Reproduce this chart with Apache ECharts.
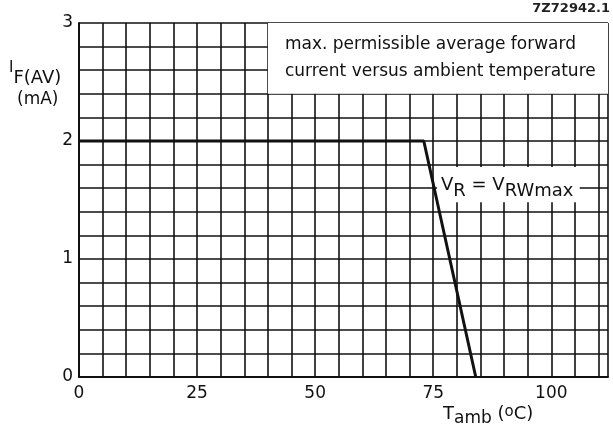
<!DOCTYPE html>
<html>
<head>
<meta charset="utf-8">
<script src="https://cdn.jsdelivr.net/npm/echarts@6/dist/echarts.min.js"></script>
<style>html,body{margin:0;padding:0;background:#fff}#c{width:613px;height:432px}</style>
</head>
<body>
<div id="c"></div>
<script>
// Data
var curveX = [0, 73, 84];
var curveY = [2, 2, 0];
var xTickLabels = [0, 25, 50, 75, 100];
var yTickLabels = [0, 1, 2, 3];
var noteLines = ['max. permissible average forward', 'current versus ambient temperature'];
var noteBox = [[40, 3], [112, 2.4]];
var condBox = [[75.8, 1.78], [106, 1.48]];
var figId = '7Z72942.1';

var FONT = '"DejaVu Sans", Verdana, sans-serif';
var chart = echarts.init(document.getElementById('c'), null, {renderer: 'canvas'});
var near = function (v, arr) { for (var i = 0; i < arr.length; i++) { if (Math.abs(v - arr[i]) < 1e-6) return true; } return false; };

var option = {
  backgroundColor: '#fff',
  animation: false,
  grid: {left: 79, right: 5, top: 23, bottom: 55, show: false},
  xAxis: {
    type: 'value', min: 0, max: 112, interval: 5,
    axisLine: {show: true, onZero: false, lineStyle: {color: '#111', width: 2}},
    axisTick: {show: false},
    axisLabel: {
      color: '#111', fontSize: 17, fontFamily: FONT, margin: 8, showMaxLabel: false,
      formatter: function (v) { return near(v, xTickLabels) ? String(Math.round(v)) : ''; }
    },
    splitLine: {show: true, lineStyle: {color: '#111', width: 1.6}}
  },
  yAxis: {
    type: 'value', min: 0, max: 3, interval: 0.2,
    axisLine: {show: true, onZero: false, lineStyle: {color: '#111', width: 2}},
    axisTick: {show: false},
    axisLabel: {
      color: '#111', fontSize: 17, fontFamily: FONT, margin: 6,
      formatter: function (v) { return near(v, yTickLabels) ? String(Math.round(v)) : ''; }
    },
    splitLine: {show: true, lineStyle: {color: '#111', width: 1.6}}
  },
  series: [
    {
      type: 'line', data: [], z: 2, silent: true,
      markArea: {
        silent: true,
        itemStyle: {color: '#fff', borderWidth: 0},
        data: [
          [{coord: noteBox[0], label: {show: true, position: 'insideLeft', distance: 17,
             formatter: noteLines.join('\n'), color: '#111', fontSize: 17, lineHeight: 27,
             fontFamily: FONT}},
           {coord: noteBox[1]}],
          [{coord: condBox[0], label: {show: true, position: 'insideLeft', distance: 4, offset: [0, 4],
             formatter: '{m|V}{s|R}{m| = V}{s|RWmax}', color: '#111', fontFamily: FONT,
             rich: {
               m: {fontSize: 18, fontFamily: FONT, color: '#111', lineHeight: 24, verticalAlign: 'top'},
               s: {fontSize: 18, fontFamily: FONT, color: '#111', lineHeight: 24, verticalAlign: 'bottom', padding: [8, 0, 0, 0]}
             }}},
           {coord: condBox[1]}]
        ]
      }
    },
    {
      type: 'line', z: 5, symbol: 'none', silent: true,
      lineStyle: {color: '#111', width: 3},
      data: curveX.map(function (x, i) { return [x, curveY[i]]; })
    }
  ],
  graphic: [
    {type: 'text', right: 3, top: 2, style: {text: figId, font: 'bold 13px ' + FONT, fill: '#222'}},
    {type: 'text', left: 9, top: 61, style: {
      text: '{a|I}{b|F(AV)}', fill: '#111',
      rich: {
        a: {fontSize: 15, fontFamily: FONT, fill: '#111', verticalAlign: 'top', lineHeight: 26},
        b: {fontSize: 18, fontFamily: FONT, fill: '#111', verticalAlign: 'bottom', lineHeight: 26, padding: [8, 0, 0, 0]}
      }}},
    {type: 'text', left: 17, top: 91, style: {text: '(mA)', font: '17px ' + FONT, fill: '#111'}},
    {type: 'text', left: 443, top: 402, style: {
      text: '{a|T}{b|amb}{a| (}{c|o}{a|C)}', fill: '#111',
      rich: {
        a: {fontSize: 18, fontFamily: FONT, fill: '#111', lineHeight: 22, verticalAlign: 'top'},
        b: {fontSize: 17, fontFamily: FONT, fill: '#111', lineHeight: 22, verticalAlign: 'bottom', padding: [8, 0, 0, 0]},
        c: {fontSize: 15, fontFamily: FONT, fill: '#111', lineHeight: 22, verticalAlign: 'top', padding: [0, 0, 8, 0]}
      }}}
  ]
};
chart.setOption(option);
</script>
</body>
</html>
